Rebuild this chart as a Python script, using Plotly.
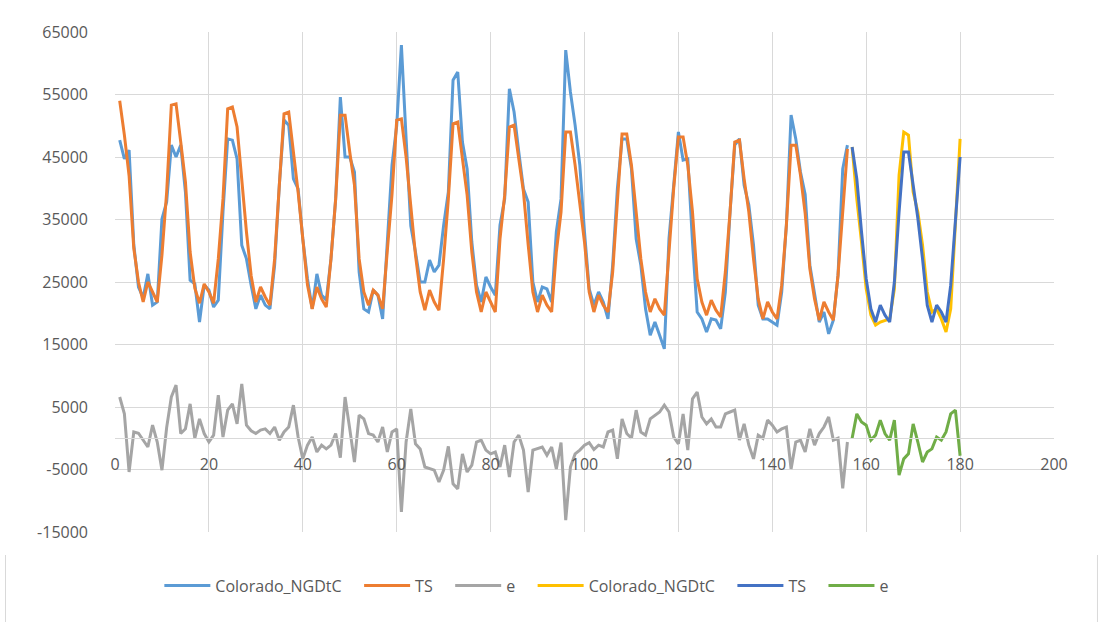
import plotly.graph_objects as go

x_hist = list(range(1, 157))
x_fc = list(range(157, 181))

colorado = [47700, 44700, 46100, 31000, 24200, 22500, 26300, 21300, 21800, 35100, 37800, 46900,
            45000, 46900, 39400, 25300, 24700, 18600, 24500, 23700, 21000, 22100, 36200, 47900,
            47700, 44700, 30900, 28700, 24500, 20700, 22900, 21300, 20700, 27700, 40500, 50900,
            50100, 41500, 39900, 31900, 25500, 20700, 26300, 22900, 22100, 28700, 38300, 54600,
            45000, 45000, 42600, 26600, 20700, 20200, 23700, 22900, 19100, 31400, 43700, 50000,
            62900, 48000, 34000, 29800, 25000, 25000, 28500, 26600, 27700, 34100, 39400, 57300,
            58600, 47400, 43100, 31400, 24500, 21800, 25800, 24200, 22900, 34100, 38300, 55900,
            52200, 45800, 39900, 37800, 25000, 21800, 24200, 23900, 21800, 33000, 38300, 62100,
            55400, 50100, 43700, 33000, 23900, 21300, 23400, 21800, 19100, 27700, 39900, 47900,
            47900, 43100, 31900, 27700, 20700, 16500, 18600, 16500, 14300, 32000, 41000, 49000,
            44500, 44700, 31400, 20200, 19100, 17000, 19100, 18900, 17500, 23400, 36200, 46900,
            47900, 40500, 37300, 30900, 21300, 19100, 19100, 18600, 18100, 23400, 34100, 51700,
            47900, 42600, 39000, 27700, 23400, 18600, 20200, 16700, 18900, 26100, 43100, 46900]

ts = [54000, 48500, 42000, 30400, 25000, 21800, 25000, 23400, 21800, 29300, 39400, 53300,
      53500, 47400, 41000, 29800, 24000, 21600, 24700, 23400, 21600, 28700, 38300, 52700,
      53000, 49800, 41000, 33000, 26000, 21800, 24200, 22600, 21300, 28700, 40500, 51900,
      52200, 45800, 39400, 31900, 24500, 20700, 24200, 22300, 21000, 28700, 38300, 51700,
      51700, 45800, 40500, 28700, 23400, 21300, 23700, 22900, 20700, 30000, 39000, 50900,
      51100, 45000, 37000, 29300, 23400, 20500, 23700, 21800, 20500, 28700, 38300, 50300,
      50600, 44700, 38900, 29800, 23400, 20200, 23400, 21800, 20200, 31900, 38900, 49800,
      50100, 44700, 39400, 31000, 23400, 20200, 22900, 21300, 20200, 29800, 36200, 49000,
      49000, 43700, 37300, 31400, 23400, 20200, 22900, 21300, 20200, 26600, 37800, 48700,
      48700, 43700, 36200, 28700, 23400, 20200, 22300, 20700, 19700, 30000, 40000, 48200,
      48200, 43700, 36200, 25500, 21800, 19700, 22100, 20500, 19400, 26600, 36200, 47400,
      47700, 41500, 36200, 28700, 22300, 19100, 21800, 20200, 19100, 24500, 34100, 46900,
      46900, 42100, 36000, 27100, 22300, 18900, 21800, 20200, 18900, 26100, 36700, 46300]

e = [6600, 3900, -5400, 1000, 800, -300, -1400, 2100, -600, -5100, 1700, 6600,
     8500, 750, 1500, 5500, 0, 3100, 750, -600, 500, 6900, 200, 4500,
     5500, 2300, 8700, 2100, 1200, 750, 1300, 1500, 750, 1800, -300, 1000,
     1800, 5300, 200, -3300, -1100, 200, -2200, -1100, -1700, -1100, 750, -3100,
     6600, 1500, -3800, 3700, 3100, 750, 500, -600, 1800, -2200, 1000, 1500,
     -11800, -600, 4700, -900, -1700, -4600, -4900, -5100, -7000, -5100, -1300, -7300,
     -8100, -2500, -5400, -4300, -600, -300, -1900, -2500, -2200, -4600, -1100, -6200,
     -600, 500, -1900, -8600, -1900, -1700, -1400, -2700, -1400, -4900, -700, -13100,
     -4600, -2500, -1900, -1100, -700, -1800, -1100, -1400, 1000, 1300, -3300, 3100,
     750, 0, 4500, 1000, 500, 3100, 3700, 4200, 5300, 4200, 200, -900,
     3900, -1900, 6300, 7400, 3400, 2300, 3100, 1800, 1800, 3900, 4200, 4500,
     -300, 2300, -1100, -3300, 500, 0, 2900, 2100, 1000, 1500, 1800, -4900,
     -600, -300, -2200, 1500, -1100, 750, 1800, 3400, -300, 0, -8000, -600]

colorado_fc = [46600, 38300, 31400, 23900, 19700, 18100, 18600, 18900, 19100, 23900, 42100, 49000,
               48500, 39400, 36200, 30900, 23400, 20200, 20700, 19100, 17000, 20700, 34100, 47900]
ts_fc = [46600, 41500, 33000, 25500, 20700, 18600, 21300, 19700, 18600, 25000, 36200, 45800,
         45800, 40500, 35200, 28700, 21300, 18600, 21300, 20200, 18600, 24500, 34100, 45000]
e_fc = [0, 3900, 2600, 2100, -300, 500, 2900, 750, -300, 2900, -5900, -3300,
        -2500, 2300, -600, -3800, -2200, -1700, 200, -300, 1000, 3900, 4500, -2800]

y_ticks = [-15000, -5000, 5000, 15000, 25000, 35000, 45000, 55000, 65000]
y_tick_labels = ["-15000", "-5000", "5000", "15000", "25000", "35000", "45000", "55000", "65000"]
x_ticks = [0, 20, 40, 60, 80, 100, 120, 140, 160, 180, 200]
x_tick_labels = ["0", "20", "40", "60", "80", "100", "120", "140", "160", "180", "200"]

series = [
    ("Colorado_NGDtC", x_hist, colorado, "#5B9BD5"),
    ("TS", x_hist, ts, "#ED7D31"),
    ("e", x_hist, e, "#A5A5A5"),
    ("Colorado_NGDtC", x_fc, colorado_fc, "#FFC000"),
    ("TS", x_fc, ts_fc, "#4472C4"),
    ("e", x_fc, e_fc, "#70AD47"),
]

pad = "\u00a0\u00a0\u00a0"
fig = go.Figure()
for name, xs, ys, col in series:
    fig.add_trace(go.Scatter(x=xs, y=ys, name=name + pad, mode="lines",
                             line=dict(color=col, width=3)))

border = "#D9D9D9"
for xp in (-0.1166, 1.0463):
    fig.add_shape(type="line", xref="paper", yref="paper", x0=xp, x1=xp,
                  y0=-0.046, y1=-0.19, line=dict(color=border, width=1))

font_family = "Open Sans, Liberation Sans, sans-serif"
fig.update_layout(
    width=1103, height=622,
    margin=dict(l=115, r=49, t=32, b=90),
    paper_bgcolor="white", plot_bgcolor="white",
    font=dict(family=font_family, size=16, color="#595959"),
    showlegend=True,
    legend=dict(orientation="h", x=0.445, xanchor="center", y=-0.107, yanchor="middle",
                font=dict(size=16, color="#595959"), itemwidth=46,
                bgcolor="rgba(0,0,0,0)"),
    xaxis=dict(range=[0, 200], tickvals=x_ticks, ticktext=x_tick_labels,
               showgrid=True, gridcolor="#D9D9D9",
               gridwidth=1, zeroline=False, showline=True, linecolor="#D9D9D9", linewidth=1,
               anchor="free", position=0.1875, ticks="", ticklabelstandoff=12,
               tickfont=dict(size=16, color="#595959")),
    yaxis=dict(range=[-15000, 65000], tickvals=y_ticks, ticktext=y_tick_labels, showgrid=True,
               gridcolor="#D9D9D9", gridwidth=1, zeroline=False, showline=False,
               ticks="", ticklabelstandoff=26, tickfont=dict(size=16, color="#595959"),
               domain=[0, 1]),
)

fig.write_html("out.html")
